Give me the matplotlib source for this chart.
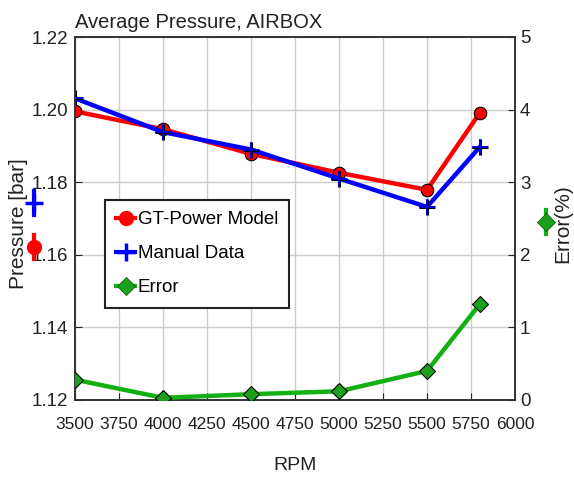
import matplotlib
matplotlib.use("Agg")
import matplotlib.pyplot as plt
from matplotlib.lines import Line2D

plt.rcParams['font.family'] = ['Liberation Sans', 'DejaVu Sans']

rpm = [3500, 4000, 4500, 5000, 5500, 5800]
gt_power = [1.1995, 1.1946, 1.1878, 1.1826, 1.1779, 1.1991]
manual = [1.2031, 1.1938, 1.1890, 1.1810, 1.1732, 1.1897]
error_pct = [0.28, 0.03, 0.08, 0.12, 0.40, 1.32]

x_ticks = list(range(3500, 6001, 250))
p_ticks = [1.12, 1.14, 1.16, 1.18, 1.20, 1.22]
e_ticks = [0, 1, 2, 3, 4, 5]

GREEN_LINE = '#12b012'
GREEN_FILL = '#1aa01a'

fig = plt.figure(figsize=(5.74, 4.79), dpi=100)
ax = fig.add_axes([75 / 574, 1 - 400 / 479, 440 / 574, 363 / 479])
ax2 = ax.twinx()

ax.plot(rpm, gt_power, color='red', lw=3.2, marker='o', ms=9,
        mfc='red', mec='black', mew=0.8, zorder=3)
ax.plot(rpm, manual, color='blue', lw=3.2, marker='+', ms=12,
        mec='black', mew=2.2, zorder=4)
ax.plot(rpm, manual, color='none', marker='+', ms=11,
        mec='blue', mew=1.2, zorder=5)
ax2.plot(rpm, error_pct, color=GREEN_LINE, lw=3.2, marker='D', ms=8,
         mfc=GREEN_FILL, mec='black', mew=0.8, zorder=3)

ax.set_xlim(3500, 6000)
ax.set_ylim(1.12, 1.22)
ax2.set_ylim(0, 5)
ax.set_xticks(x_ticks)
ax.set_yticks(p_ticks)
ax.set_yticklabels([f"{v:.2f}" for v in p_ticks])
ax2.set_yticks(e_ticks)
ax.grid(True, color='#cccccc', lw=1)
ax.set_axisbelow(True)

for a in (ax, ax2):
    for s in a.spines.values():
        s.set_color('#333333')
        s.set_linewidth(1.2)
    a.tick_params(direction='in', length=5, labelsize=13.5, colors='#222222')
ax.tick_params(axis='x', pad=12, labelsize=12.5)
ax.tick_params(axis='y', pad=5)

fig.text(75 / 574, 1 - 23 / 479, 'Average Pressure, AIRBOX', fontsize=14.5,
         va='center', ha='left', color='#222222')
fig.text(295 / 574, 1 - 466 / 479, 'RPM', fontsize=14, ha='center',
         va='center', color='#222222')

# left axis label with its series markers
fig.text(19 / 574, 1 - 224 / 479, 'Pressure [bar]', fontsize=15, rotation=90,
         ha='center', va='center', color='#222222')
fig.add_artist(Line2D([34 / 574] * 2, [1 - 235 / 479, 1 - 259 / 479],
                      transform=fig.transFigure, color='red', lw=3))
fig.add_artist(Line2D([34 / 574], [1 - 247 / 479], transform=fig.transFigure,
                      marker='o', ms=10, mfc='red', mec='red', lw=0))
fig.add_artist(Line2D([34 / 574] * 2, [1 - 191 / 479, 1 - 215 / 479],
                      transform=fig.transFigure, color='blue', lw=3))
fig.add_artist(Line2D([34 / 574], [1 - 203 / 479], transform=fig.transFigure,
                      marker='+', ms=13, mec='blue', mew=2.5, lw=0))

# right axis label with its series marker
fig.text(563 / 574, 1 - 224 / 479, 'Error(%)', fontsize=15, rotation=90,
         ha='center', va='center', color='#222222')
fig.add_artist(Line2D([546 / 574] * 2, [1 - 210 / 479, 1 - 234 / 479],
                      transform=fig.transFigure, color=GREEN_LINE, lw=3))
fig.add_artist(Line2D([546 / 574], [1 - 222 / 479], transform=fig.transFigure,
                      marker='D', ms=9, mfc=GREEN_FILL, mec='#0a600a', mew=0.6, lw=0))

handles = [
    Line2D([], [], color='red', lw=3, marker='o', ms=10, mfc='red', mec='red'),
    Line2D([], [], color='blue', lw=3, marker='+', ms=13, mec='blue', mew=2.5),
    Line2D([], [], color=GREEN_LINE, lw=3, marker='D', ms=9, mfc=GREEN_FILL,
           mec='#0a600a', mew=0.6),
]
leg = ax.legend(handles, ['GT-Power Model', 'Manual Data', 'Error'],
                loc='upper left', bbox_to_anchor=(30 / 440, 1 - 163 / 363),
                fontsize=13.5, handlelength=1.0, handletextpad=0.15,
                fancybox=False, framealpha=1, edgecolor='#222222',
                borderpad=0.6, labelspacing=0.9, borderaxespad=0)
leg.get_frame().set_linewidth(1.5)
leg.set_zorder(10)

fig.savefig('out.png', dpi=100)
